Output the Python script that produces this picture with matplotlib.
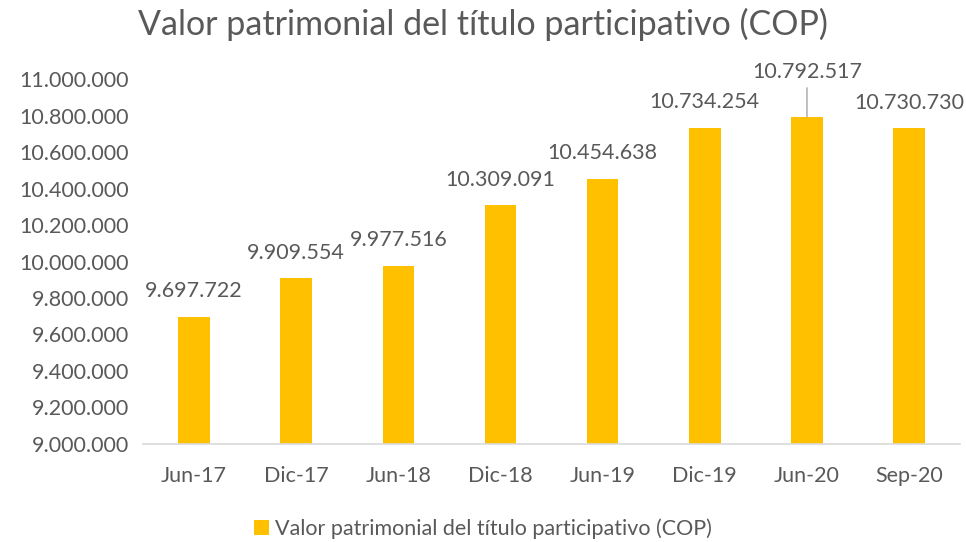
import matplotlib
matplotlib.use("Agg")
import matplotlib.pyplot as plt
from matplotlib.ticker import FuncFormatter, MultipleLocator

plt.rcParams['font.family'] = ['Lato', 'DejaVu Sans']

fechas = ['Jun-17', 'Dic-17', 'Jun-18', 'Dic-18', 'Jun-19', 'Dic-19', 'Jun-20', 'Sep-20']
valores = [9697722, 9909554, 9977516, 10309091, 10454638, 10734254, 10792517, 10730730]
serie = 'Valor patrimonial del título participativo (COP)'

gris = '#595959'
amarillo = '#FFC000'


def miles(v, pos=None):
    return f'{int(round(v)):,}'.replace(',', '.')


fig = plt.figure(figsize=(9.66, 5.42), dpi=100)
ax = fig.add_axes([0.148, 0.181, 0.846, 0.673])

x = list(range(len(fechas)))
ax.bar(x, valores, width=0.31, color=amarillo, label=serie, zorder=2)

ax.set_ylim(9000000, 11000000)
ax.set_xlim(-0.5, len(fechas) - 0.5)
ax.yaxis.set_major_locator(MultipleLocator(200000))
ax.yaxis.set_major_formatter(FuncFormatter(miles))
ax.set_xticks(x)
ax.set_xticklabels(fechas)

for s in ['top', 'right', 'left']:
    ax.spines[s].set_visible(False)
ax.spines['bottom'].set_color('#D9D9D9')
ax.spines['bottom'].set_linewidth(1.2)
ax.tick_params(axis='both', length=0, colors=gris)
ax.tick_params(axis='y', pad=10, labelsize=15.5)
ax.tick_params(axis='x', pad=16, labelsize=15.5)

for i, v in enumerate(valores):
    if fechas[i] == 'Jun-20':
        ax.annotate(miles(v), xy=(i, v), xytext=(0, 25), textcoords='offset points',
                    ha='center', va='bottom', fontsize=15.5, color=gris,
                    arrowprops=dict(arrowstyle='-', color='#A6A6A6', lw=1,
                                    shrinkA=2, shrinkB=0))
    else:
        ax.annotate(miles(v), xy=(i, v), xytext=(0, 11), textcoords='offset points',
                    ha='center', va='bottom', fontsize=15.5, color=gris)

fig.suptitle(serie, x=0.5, y=0.985, fontsize=24.5, color=gris)

leg = fig.legend(loc='lower center', bbox_to_anchor=(0.5, -0.03), frameon=False,
                 fontsize=15.5, handlelength=0.7, handleheight=0.7, handletextpad=0.3)
for t in leg.get_texts():
    t.set_color(gris)

fig.savefig('out.png', dpi=100)
